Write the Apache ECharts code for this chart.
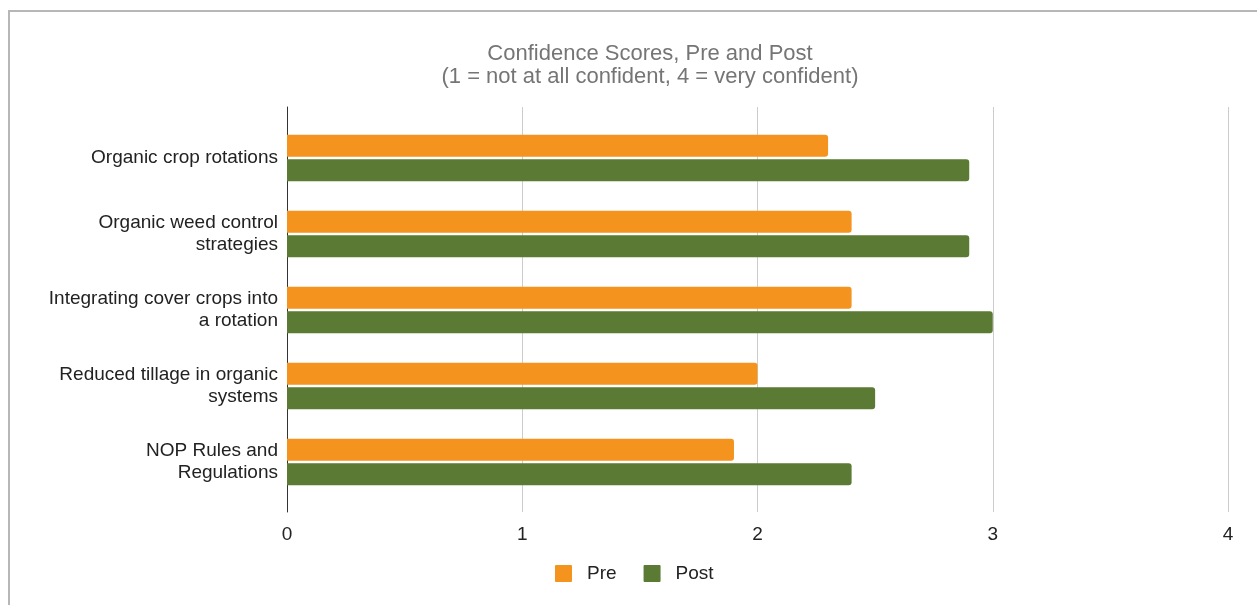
<!DOCTYPE html>
<html><head><meta charset="utf-8">
<script src="https://cdn.jsdelivr.net/npm/echarts@6/dist/echarts.min.js"></script>
<style>html,body{margin:0;padding:0;background:#fff}#c{width:1257px;height:605px}</style>
</head><body><div id="c"></div>
<script>
var categories = ['Organic crop rotations', 'Organic weed control\nstrategies', 'Integrating cover crops into\na rotation', 'Reduced tillage in organic\nsystems', 'NOP Rules and\nRegulations'];
var preValues = [2.3, 2.4, 2.4, 2.0, 1.9];
var postValues = [2.9, 2.9, 3.0, 2.5, 2.4];
var xTicks = [0, 1, 2, 3, 4];

var chart = echarts.init(document.getElementById('c'), null, {renderer: 'canvas'});
var font = 'Liberation Sans, Arial, sans-serif';
chart.setOption({
  animation: false,
  textStyle: {fontFamily: font},
  graphic: [{type: 'rect', shape: {x: 9, y: 11, width: 1400, height: 800}, style: {fill: 'none', stroke: '#b7b7b7', lineWidth: 2}, silent: true, z: -10}],
  title: {text: 'Confidence Scores, Pre and Post\n(1 = not at all confident, 4 = very confident)', left: 645, textAlign: 'center', top: 38,
    textStyle: {fontFamily: font, fontSize: 22, fontWeight: 'normal', color: '#757575', lineHeight: 22.5}},
  legend: {data: ['Pre', 'Post'], top: 559, left: 550, itemWidth: 17, itemHeight: 17, itemGap: 27, icon: 'path://M1,0H16Q17,0 17,1V16Q17,17 16,17H1Q0,17 0,16V1Q0,0 1,0Z',
    textStyle: {fontFamily: font, fontSize: 19, color: '#222', padding: [0, 0, 0, 10]}},
  grid: [
    {left: 287, right: 29, top: 120, bottom: 105},
    {left: 287, right: 29, top: 107, bottom: 93}
  ],
  xAxis: [
    {gridIndex: 0, type: 'value', min: 0, max: 4, interval: 1, show: false},
    {gridIndex: 1, type: 'value', min: 0, max: 4, interval: 1,
      axisLine: {show: false}, axisTick: {show: false},
      axisLabel: {color: '#222', fontSize: 19, margin: 13, fontFamily: font, formatter: function(v){return xTicks.indexOf(v) >= 0 ? String(v) : '';}},
      splitLine: {show: true, lineStyle: {color: '#cccccc', width: 1}}}
  ],
  yAxis: [
    {gridIndex: 0, type: 'category', data: categories, inverse: true,
      axisLine: {show: false}, axisTick: {show: false}, splitLine: {show: false},
      axisLabel: {color: '#222', fontSize: 19, margin: 9, lineHeight: 22, align: 'right', fontFamily: font}},
    {gridIndex: 1, type: 'category', data: categories, inverse: true,
      axisLine: {show: true, lineStyle: {color: '#333', width: 1}}, axisTick: {show: false}, axisLabel: {show: false}, splitLine: {show: false}}
  ],
  series: [
    {name: 'Pre', type: 'bar', xAxisIndex: 0, yAxisIndex: 0, data: preValues, barWidth: 22, barGap: '12%',
      itemStyle: {color: '#f4931e', borderRadius: [0, 3, 3, 0]}, z: 5},
    {name: 'Post', type: 'bar', xAxisIndex: 0, yAxisIndex: 0, data: postValues, barWidth: 22, barGap: '12%',
      itemStyle: {color: '#5b7a33', borderRadius: [0, 3, 3, 0]}, z: 5}
  ]
});
</script></body></html>
